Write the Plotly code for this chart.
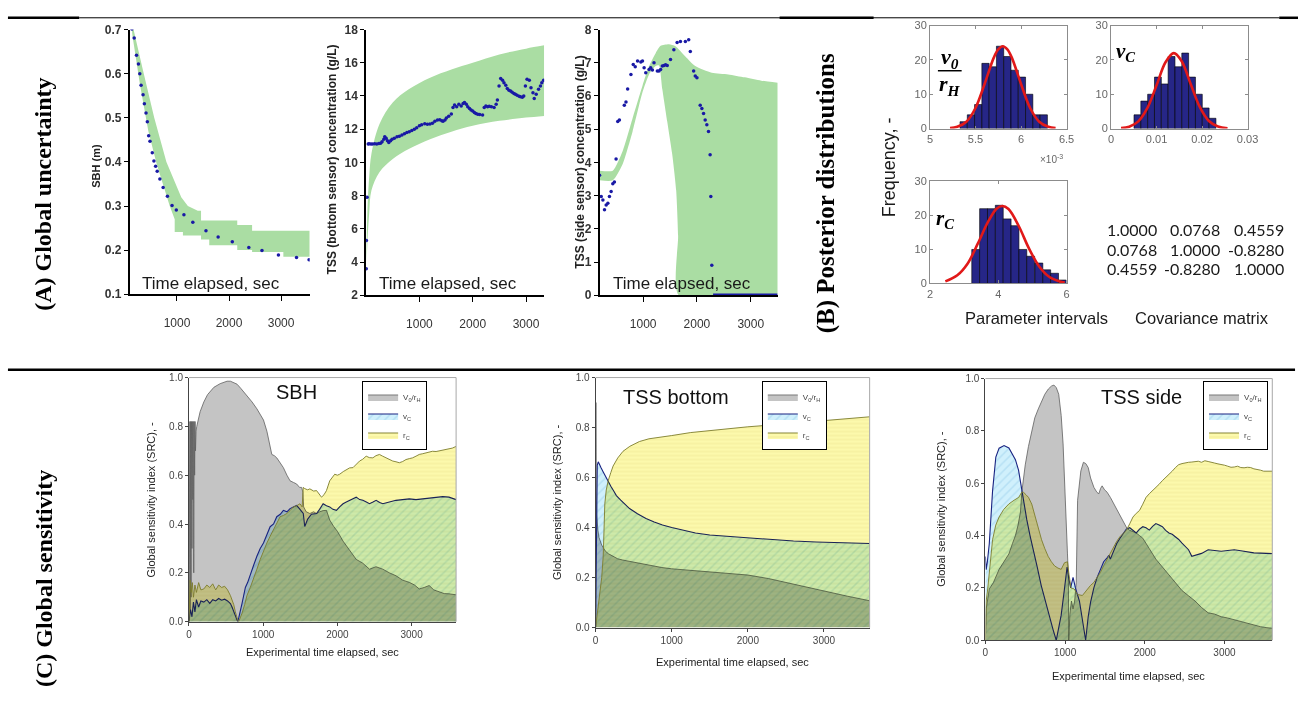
import plotly.graph_objects as go

# ---------------------------------------------------------------- data
# (A) observed vs. simulated envelopes
sbh_obs_t = [133, 177, 222, 259, 285, 310, 348, 373, 405, 430,
             456, 481, 525, 557, 589, 620, 671, 734, 816, 905,
             987, 1133, 1304, 1557, 1791, 2063, 2380, 2633, 2949, 3297,
             3538]
sbh_obs = [0.701, 0.681, 0.642, 0.622, 0.600, 0.574, 0.552, 0.532, 0.511, 0.491,
           0.459, 0.447, 0.421, 0.402, 0.390, 0.379, 0.361, 0.342, 0.322, 0.301,
           0.291, 0.280, 0.263, 0.244, 0.230, 0.219, 0.206, 0.199, 0.189, 0.183,
           0.178]
sbh_hi_t = [133, 165, 354, 563, 797, 1019, 1082, 1209, 1399, 1462, 1462, 2158, 2158, 2443, 2443, 3551]
sbh_hi = [0.70, 0.70, 0.604, 0.50, 0.40, 0.337, 0.32, 0.30, 0.289, 0.289, 0.267, 0.267, 0.257, 0.257, 0.244, 0.244]
sbh_lo_t = [133, 146, 291, 449, 608, 861, 956, 956, 1114, 1114, 1462, 1462, 1620, 1620, 2158, 2158,
            2443, 2443, 3044, 3044, 3551]
sbh_lo = [0.70, 0.685, 0.574, 0.47, 0.396, 0.30, 0.27, 0.241, 0.241, 0.233, 0.233, 0.224, 0.224, 0.211,
          0.211, 0.2, 0.2, 0.196, 0.196, 0.185, 0.185]

tssb_obs_t = [3, 6, 19, 40, 56, 90, 120, 160, 200, 240,
              272, 300, 333, 350, 376, 400, 426, 460, 487, 530,
              580, 625, 673, 720, 765, 810, 858, 905, 950, 1000,
              1043, 1100, 1150, 1198, 1245, 1290, 1340, 1383, 1420, 1444,
              1480, 1506, 1550, 1599, 1630, 1660, 1700, 1740, 1784, 1820,
              1846, 1880, 1907, 1940, 1969, 2000, 2031, 2060, 2093, 2130,
              2185, 2216, 2247, 2280, 2309, 2350, 2401, 2440, 2463, 2494,
              2525, 2560, 2586, 2620, 2648, 2680, 2710, 2740, 2772, 2800,
              2833, 2870, 2895, 2930, 2957, 2988, 3019, 3062, 3093, 3130,
              3154, 3191, 3235, 3270, 3296, 3330]
tssb_obs = [3.6, 5.3, 7.9, 11.1, 11.12, 11.1, 11.1, 11.12, 11.1, 11.13,
            11.15, 11.25, 11.4, 11.55, 11.45, 11.3, 11.2, 11.3, 11.4, 11.45,
            11.55, 11.58, 11.65, 11.72, 11.8, 11.85, 11.92, 12.0, 12.08, 12.2,
            12.27, 12.32, 12.3, 12.31, 12.35, 12.47, 12.55, 12.57, 12.5, 12.47,
            12.55, 12.67, 12.78, 12.91, 13.3, 13.45, 13.35, 13.5, 13.4, 13.55,
            13.6, 13.5, 13.35, 13.25, 13.15, 13.1, 13.0, 12.95, 12.9, 12.88,
            12.85, 13.3, 13.4, 13.35, 13.38, 13.35, 13.3, 13.5, 13.75, 14.6,
            15.05, 14.95, 14.8, 14.65, 14.45, 14.35, 14.3, 14.22, 14.15, 14.1,
            14.05, 13.98, 13.95, 13.92, 14.0, 14.6, 15.0, 14.95, 14.5, 14.2,
            13.85, 14.1, 14.4, 14.6, 14.8, 14.95]
tssb_band_t = [10, 30, 60, 100, 250, 500, 800, 1200, 1600, 2000, 2500, 3000, 3340]
tssb_hi = [5.0, 7.5, 9.2, 10.5, 12.3, 13.6, 14.4, 15.1, 15.6, 16.0, 16.5, 16.85, 17.05]
tssb_lo = [4.0, 5.5, 7.0, 8.3, 9.4, 10.2, 10.8, 11.4, 11.85, 12.2, 12.5, 12.7, 12.8]

tsss_obs_t = [190, 221, 252, 282, 313, 344, 374, 405, 436, 466,
              497, 528, 559, 650, 681, 712, 773, 816, 853, 896,
              957, 988, 1018, 1049, 1110, 1141, 1172, 1202, 1264, 1294,
              1325, 1356, 1387, 1417, 1448, 1509, 1571, 1632, 1693, 1785,
              1847, 1877, 1939, 1969, 2000, 2061, 2092, 2123, 2153, 2184,
              2215, 2245, 2258, 2276]
tsss_obs = [3.61, 2.97, 2.87, 2.57, 2.72, 2.77, 2.97, 3.12, 3.36, 3.41,
            4.10, 5.23, 5.28, 5.72, 5.82, 6.21, 6.65, 6.95, 6.88, 7.05,
            7.02, 7.05, 6.85, 6.70, 6.80, 6.85, 6.78, 7.0, 6.75, 6.75,
            6.80, 6.90, 6.92, 6.94, 6.92, 7.10, 7.39, 7.61, 7.64, 7.64,
            7.69, 7.34, 6.75, 6.60, 6.55, 5.72, 5.62, 5.47, 5.28, 5.13,
            4.93, 4.23, 2.97, 0.9]
tsss_zero_t = [2300, 3500]
tsss_zero = [0, 0]
tsss_hi_t = [190, 436, 620, 804, 988, 1110, 1233, 1325, 1479, 1601, 1785, 1969, 2276, 2583, 2890, 3196, 3503]
tsss_hi = [3.75, 3.75, 4.34, 5.33, 6.31, 6.9, 7.29, 7.51, 7.56, 7.5, 7.19, 6.9, 6.7, 6.65, 6.56, 6.46, 6.4]
tsss_lo_t = [190, 436, 620, 804, 988, 1110, 1233, 1294, 1356, 1448, 1540, 1614, 1650, 1663, 3503]
tsss_lo = [3.46, 3.46, 3.95, 4.93, 6.11, 6.65, 6.9, 6.92, 6.21, 5.23, 4.25, 3.16, 1.79, 0.0, 0.0]

# (B) posterior histograms (bin centres, counts) and fitted normal curves
h1_x = [5.37, 5.45, 5.53, 5.61, 5.69, 5.77, 5.85, 5.93, 6.01, 6.09, 6.17, 6.25]
h1_n = [2, 4, 7, 19, 18, 24, 21, 17, 15, 10, 4, 4]
h1_fit_x = [5.22, 5.3, 5.4, 5.5, 5.6, 5.7, 5.75, 5.8, 5.85, 5.9, 6.0, 6.1, 6.2, 6.3, 6.38]
h1_fit = [0.13, 0.5, 2.0, 6.0, 13.0, 20.6, 23.1, 24.0, 23.1, 20.6, 13.0, 6.0, 2.0, 0.5, 0.13]

h2_x = [0.0058, 0.0073, 0.0088, 0.0103, 0.0118, 0.0133, 0.0148, 0.0163, 0.0178, 0.0193, 0.0208, 0.0223]
h2_n = [4, 8, 10, 15, 13, 21, 18, 22, 15, 10, 6, 3]
h2_fit_x = [0.0022, 0.004, 0.006, 0.008, 0.010, 0.012, 0.0138, 0.0155, 0.0175, 0.0195, 0.0215, 0.0235, 0.0256]
h2_fit = [0.12, 0.54, 2.1, 6.0, 12.6, 19.4, 22.0, 19.7, 13.0, 6.3, 2.2, 0.6, 0.1]

h3_x = [3.34, 3.57, 3.80, 4.03, 4.26, 4.49, 4.72, 4.95, 5.19, 5.42, 5.65, 5.88]
h3_n = [10, 22, 22, 23, 19, 17, 10, 8, 6, 4, 3, 1]
h3_fit_x = [2.45, 2.8, 3.1, 3.4, 3.7, 3.95, 4.12, 4.3, 4.6, 4.9, 5.2, 5.5, 5.8, 5.95]
h3_fit = [0.6, 2.4, 5.8, 11.7, 18.1, 22.0, 22.8, 21.9, 16.9, 10.3, 5.0, 1.9, 0.6, 0.3]

corr_rows = [["1.0000", "0.0768", "0.4559"],
             ["0.0768", "1.0000", "-0.8280"],
             ["0.4559", "-0.8280", "1.0000"]]

# (C) standardized regression coefficients over time
c1_g_t = [0, 12, 16, 22, 28, 34, 40, 46, 52, 58,
          64, 70, 76, 82, 88, 95, 105, 150, 200, 250,
          335, 420, 513, 558, 600, 647, 700, 781, 850, 915,
          960, 1004, 1050, 1094, 1116, 1150, 1183, 1230, 1272, 1320,
          1362, 1410, 1451, 1490, 1518, 1535, 1545, 1580, 1629, 1680,
          1719, 1760, 1808, 1853, 1897, 1950, 2000, 2076, 2150, 2254,
          2340, 2433, 2520, 2612, 2700, 2790, 2880, 2969, 3040, 3103,
          3170, 3237, 3300, 3371, 3440, 3504, 3600]
c1_g = [0.0, 0.82, 0.05, 0.82, 0.10, 0.82, 0.30, 0.82, 0.50, 0.82,
        0.20, 0.82, 0.60, 0.82, 0.70, 0.78, 0.80, 0.86, 0.90, 0.93,
        0.96, 0.975, 0.985, 0.985, 0.98, 0.973, 0.955, 0.926, 0.90, 0.872,
        0.85, 0.826, 0.78, 0.725, 0.685, 0.68, 0.671, 0.65, 0.631, 0.60,
        0.577, 0.57, 0.564, 0.55, 0.55, 0.53, 0.47, 0.45, 0.443, 0.45,
        0.443, 0.45, 0.455, 0.456, 0.416, 0.39, 0.37, 0.33, 0.30, 0.255,
        0.24, 0.215, 0.225, 0.215, 0.20, 0.188, 0.17, 0.161, 0.15, 0.134,
        0.14, 0.148, 0.13, 0.121, 0.115, 0.114, 0.11]
c1_b_t = [0, 20, 40, 60, 80, 100, 130, 160, 200, 240,
          280, 320, 360, 400, 440, 480, 520, 558, 580, 603,
          625, 645, 656, 670, 692, 715, 737, 760, 790, 826,
          870, 915, 960, 1004, 1050, 1094, 1140, 1183, 1230, 1272,
          1320, 1362, 1406, 1451, 1496, 1540, 1560, 1600, 1650, 1719,
          1760, 1808, 1853, 1897, 1940, 1987, 2030, 2076, 2120, 2165,
          2210, 2254, 2300, 2343, 2390, 2433, 2480, 2522, 2570, 2612,
          2700, 2790, 2880, 2969, 3060, 3147, 3240, 3326, 3420, 3504,
          3600]
c1_b = [0.0, 0.05, 0.02, 0.08, 0.04, 0.09, 0.06, 0.085, 0.08, 0.09,
        0.075, 0.09, 0.085, 0.095, 0.088, 0.092, 0.085, 0.074, 0.06, 0.04,
        0.02, 0.007, 0.0, 0.015, 0.04, 0.075, 0.107, 0.14, 0.16, 0.188,
        0.23, 0.268, 0.30, 0.322, 0.36, 0.389, 0.40, 0.43, 0.44, 0.456,
        0.45, 0.463, 0.47, 0.476, 0.46, 0.443, 0.39, 0.42, 0.44, 0.443,
        0.46, 0.483, 0.475, 0.47, 0.46, 0.456, 0.47, 0.483, 0.49, 0.497,
        0.505, 0.51, 0.50, 0.497, 0.49, 0.483, 0.49, 0.497, 0.488, 0.483,
        0.49, 0.497, 0.50, 0.503, 0.50, 0.503, 0.508, 0.51, 0.512, 0.51,
        0.50]
c1_y_t = [0, 15, 30, 45, 60, 80, 100, 130, 160, 200,
          240, 280, 320, 360, 400, 440, 480, 520, 558, 580,
          603, 625, 647, 660, 670, 690, 714, 750, 781, 826,
          870, 915, 960, 1004, 1049, 1094, 1138, 1183, 1228, 1272,
          1317, 1362, 1406, 1451, 1496, 1525, 1540, 1560, 1600, 1629,
          1680, 1719, 1760, 1786, 1820, 1853, 1897, 1930, 1964, 2000,
          2031, 2080, 2121, 2165, 2210, 2255, 2299, 2340, 2388, 2430,
          2478, 2520, 2567, 2610, 2656, 2700, 2746, 2790, 2835, 2880,
          2924, 2970, 3013, 3060, 3103, 3150, 3192, 3240, 3281, 3330,
          3371, 3420, 3460, 3505, 3549, 3600]
c1_y = [0.0, 0.17, 0.12, 0.16, 0.10, 0.15, 0.12, 0.16, 0.13, 0.134,
        0.15, 0.14, 0.155, 0.13, 0.15, 0.14, 0.145, 0.13, 0.107, 0.09,
        0.07, 0.04, 0.013, 0.003, 0.0, 0.015, 0.034, 0.07, 0.107, 0.14,
        0.174, 0.215, 0.255, 0.29, 0.322, 0.35, 0.376, 0.40, 0.43, 0.435,
        0.443, 0.455, 0.47, 0.475, 0.483, 0.47, 0.55, 0.545, 0.54, 0.544,
        0.535, 0.537, 0.52, 0.51, 0.52, 0.537, 0.577, 0.59, 0.604, 0.60,
        0.604, 0.615, 0.624, 0.63, 0.631, 0.645, 0.658, 0.665, 0.678, 0.672,
        0.671, 0.68, 0.685, 0.678, 0.671, 0.665, 0.658, 0.655, 0.651, 0.656,
        0.664, 0.668, 0.671, 0.678, 0.685, 0.688, 0.691, 0.695, 0.698, 0.697,
        0.70, 0.702, 0.705, 0.708, 0.711, 0.718]

c2_g_t = [0, 4, 8, 14, 20, 30, 45, 60, 80, 100,
          130, 170, 226, 290, 356, 440, 530, 640, 748, 870,
          1000, 1200, 1400, 1617, 1800, 2000, 2270, 2500, 2704, 2850,
          3009, 3160, 3313, 3460, 3600]
c2_g = [0.0, 0.9, 0.55, 0.45, 0.42, 0.39, 0.36, 0.345, 0.33, 0.32,
        0.305, 0.295, 0.285, 0.275, 0.27, 0.265, 0.26, 0.252, 0.245, 0.24,
        0.235, 0.23, 0.226, 0.221, 0.217, 0.21, 0.196, 0.18, 0.166, 0.155,
        0.145, 0.135, 0.125, 0.116, 0.107]
c2_b_t = [0, 4, 8, 14, 22, 35, 50, 70, 95, 120,
          145, 165, 200, 240, 273, 330, 380, 446, 550, 662,
          770, 879, 1000, 1150, 1312, 1500, 1744, 1961, 2270, 2600,
          2900, 3200, 3400, 3600]
c2_b = [0.0, 0.2, 0.4, 0.58, 0.65, 0.663, 0.655, 0.64, 0.625, 0.61,
        0.60, 0.587, 0.565, 0.545, 0.528, 0.51, 0.495, 0.476, 0.455, 0.436,
        0.422, 0.41, 0.40, 0.39, 0.378, 0.37, 0.365, 0.358, 0.352, 0.346,
        0.342, 0.34, 0.338, 0.336]
c2_y_t = [0, 20, 50, 80, 100, 110, 121, 140, 165, 200,
          230, 290, 360, 450, 575, 700, 850, 1000, 1250, 1500,
          1750, 2000, 2300, 2600, 3000, 3300, 3600]
c2_y = [0.0, 0.05, 0.12, 0.2, 0.286, 0.4, 0.495, 0.55, 0.587, 0.62,
        0.646, 0.678, 0.705, 0.725, 0.744, 0.755, 0.763, 0.768, 0.78, 0.788,
        0.796, 0.803, 0.81, 0.818, 0.83, 0.837, 0.843]

c3_g_t = [0, 10, 49, 100, 172, 235, 295, 340, 377, 410,
          440, 457, 480, 500, 540, 582, 620, 664, 705, 746,
          790, 828, 860, 890, 920, 951, 975, 992, 1012, 1030,
          1041, 1046, 1060, 1080, 1100, 1120, 1140, 1157, 1198, 1230,
          1260, 1290, 1320, 1362, 1400, 1424, 1445, 1465, 1495, 1527,
          1570, 1609, 1650, 1691, 1730, 1774, 1811, 1850, 1893, 1934,
          1975, 2057, 2139, 2221, 2303, 2385, 2467, 2549, 2631, 2713,
          2795, 2877, 2959, 3041, 3123, 3205, 3287, 3369, 3451, 3533,
          3600]
c3_g = [0.0, 0.12, 0.196, 0.22, 0.271, 0.30, 0.33, 0.37, 0.40, 0.44,
        0.49, 0.566, 0.62, 0.67, 0.74, 0.80, 0.85, 0.884, 0.915, 0.94,
        0.96, 0.971, 0.975, 0.965, 0.94, 0.859, 0.75, 0.60, 0.41, 0.33,
        0.25, 0.0, 0.1, 0.15, 0.12, 0.15, 0.22, 0.535, 0.647, 0.68,
        0.675, 0.66, 0.62, 0.584, 0.565, 0.56, 0.58, 0.59, 0.575, 0.566,
        0.545, 0.522, 0.50, 0.472, 0.45, 0.429, 0.42, 0.415, 0.41, 0.40,
        0.39, 0.35, 0.31, 0.28, 0.25, 0.22, 0.19, 0.17, 0.15, 0.125,
        0.105, 0.10, 0.09, 0.085, 0.078, 0.072, 0.065, 0.058, 0.052, 0.048,
        0.046]
c3_b_t = [0, 10, 25, 49, 90, 131, 172, 234, 295, 336,
          377, 416, 457, 480, 520, 560, 600, 650, 700, 750,
          800, 850, 889, 920, 951, 992, 1025, 1045, 1070, 1100,
          1130, 1180, 1220, 1258, 1290, 1320, 1361, 1402, 1443, 1484,
          1527, 1550, 1568, 1600, 1648, 1689, 1730, 1770, 1811, 1852,
          1893, 1934, 1975, 2016, 2057, 2098, 2139, 2180, 2221, 2262,
          2303, 2344, 2385, 2426, 2467, 2508, 2549, 2590, 2631, 2672,
          2713, 2795, 2877, 2959, 3041, 3123, 3205, 3287, 3369, 3451,
          3533, 3600]
c3_b = [0.32, 0.27, 0.30, 0.37, 0.57, 0.70, 0.734, 0.744, 0.735, 0.715,
        0.69, 0.65, 0.57, 0.52, 0.46, 0.40, 0.35, 0.28, 0.21, 0.15,
        0.09, 0.04, 0.0, 0.05, 0.096, 0.196, 0.28, 0.24, 0.20, 0.24,
        0.20, 0.15, 0.08, 0.0, 0.09, 0.146, 0.20, 0.24, 0.27, 0.30,
        0.315, 0.325, 0.31, 0.335, 0.37, 0.39, 0.41, 0.425, 0.43, 0.42,
        0.41, 0.425, 0.434, 0.43, 0.421, 0.435, 0.446, 0.44, 0.434, 0.42,
        0.41, 0.405, 0.396, 0.385, 0.371, 0.36, 0.346, 0.321, 0.325, 0.328,
        0.332, 0.346, 0.342, 0.34, 0.343, 0.346, 0.342, 0.338, 0.334, 0.333,
        0.332, 0.331]
c3_y_t = [0, 10, 29, 60, 90, 130, 172, 230, 295, 360,
          418, 457, 480, 510, 541, 582, 623, 664, 705, 746,
          787, 828, 869, 910, 951, 992, 1030, 1050, 1074, 1115,
          1156, 1217, 1279, 1320, 1361, 1402, 1443, 1484, 1525, 1566,
          1607, 1648, 1689, 1730, 1770, 1811, 1852, 1893, 1934, 1975,
          2016, 2057, 2098, 2139, 2180, 2221, 2262, 2303, 2344, 2385,
          2426, 2467, 2508, 2549, 2590, 2631, 2672, 2713, 2754, 2795,
          2836, 2877, 2918, 2959, 3000, 3041, 3082, 3123, 3164, 3205,
          3246, 3287, 3328, 3369, 3410, 3451, 3492, 3533, 3574, 3600]
c3_y = [0.0, 0.15, 0.196, 0.30, 0.384, 0.44, 0.471, 0.50, 0.521, 0.535,
        0.546, 0.566, 0.565, 0.556, 0.546, 0.52, 0.471, 0.43, 0.384, 0.35,
        0.321, 0.30, 0.284, 0.276, 0.271, 0.296, 0.30, 0.25, 0.20, 0.196,
        0.175, 0.171, 0.196, 0.21, 0.221, 0.24, 0.259, 0.285, 0.309, 0.335,
        0.359, 0.378, 0.396, 0.41, 0.421, 0.445, 0.471, 0.485, 0.496, 0.52,
        0.546, 0.56, 0.571, 0.585, 0.596, 0.61, 0.621, 0.635, 0.646, 0.66,
        0.671, 0.675, 0.678, 0.68, 0.681, 0.683, 0.684, 0.68, 0.686, 0.683,
        0.681, 0.677, 0.674, 0.672, 0.669, 0.665, 0.661, 0.662, 0.665, 0.66,
        0.659, 0.661, 0.66, 0.655, 0.653, 0.65, 0.646, 0.647, 0.646, 0.646]

param_names = ["V<sub>0</sub>/r<sub>H</sub>", "v<sub>C</sub>", "r<sub>C</sub>"]

# ---------------------------------------------------------------- style
W, H = 1310, 711
SANS = "Liberation Sans, Arial, sans-serif"
SERIF = "Liberation Serif, Times New Roman, serif"
BAND = "rgb(170,221,163)"
DOT = "rgb(25,25,165)"
BAR = "rgb(38,38,135)"
FIT = "rgb(225,25,25)"
GREY_FILL = "rgb(196,196,196)"


def fx(p):
    return p / W


def fy(p):
    return 1 - p / H


fig = go.Figure()


def add(tr, n):
    sfx = "" if n == 1 else str(n)
    tr.update(xaxis="x" + sfx, yaxis="y" + sfx, hoverinfo="skip")
    fig.add_trace(tr)


# ---- (A) uncertainty bands with observations
add(go.Scatter(x=sbh_lo_t, y=sbh_lo, mode="lines", line=dict(width=0), showlegend=False), 1)
add(go.Scatter(x=sbh_hi_t, y=sbh_hi, mode="lines", line=dict(width=0), fill="tonexty",
               fillcolor=BAND, showlegend=False), 1)
add(go.Scatter(x=sbh_obs_t, y=sbh_obs, mode="markers", marker=dict(size=3.5, color=DOT),
               showlegend=False), 1)

add(go.Scatter(x=tssb_band_t, y=tssb_lo, mode="lines", line=dict(width=0, shape="spline"),
               showlegend=False), 2)
add(go.Scatter(x=tssb_band_t, y=tssb_hi, mode="lines", line=dict(width=0, shape="spline"),
               fill="tonexty", fillcolor=BAND, showlegend=False), 2)
add(go.Scatter(x=tssb_obs_t, y=tssb_obs, mode="markers", marker=dict(size=3.5, color=DOT),
               showlegend=False), 2)

add(go.Scatter(x=tsss_lo_t, y=tsss_lo, mode="lines", line=dict(width=0, shape="spline", smoothing=0.6),
               showlegend=False), 3)
add(go.Scatter(x=tsss_hi_t, y=tsss_hi, mode="lines", line=dict(width=0, shape="spline", smoothing=0.6),
               fill="tonexty", fillcolor=BAND, showlegend=False), 3)
add(go.Scatter(x=tsss_obs_t, y=tsss_obs, mode="markers", marker=dict(size=3.5, color=DOT),
               showlegend=False), 3)
add(go.Scatter(x=tsss_zero_t, y=tsss_zero, mode="lines", line=dict(width=3.5, color=DOT),
               showlegend=False), 3)

# ---- (B) posterior histograms
for n, (hx, hn, bw, fxv, fyv) in zip(
        (4, 5, 6),
        ((h1_x, h1_n, 0.08, h1_fit_x, h1_fit),
         (h2_x, h2_n, 0.0015, h2_fit_x, h2_fit),
         (h3_x, h3_n, 0.2314, h3_fit_x, h3_fit))):
    add(go.Bar(x=hx, y=hn, width=bw, marker=dict(color=BAR, line=dict(color="black", width=0.6)),
               showlegend=False), n)
    add(go.Scatter(x=fxv, y=fyv, mode="lines", line=dict(color=FIT, width=2.6, shape="spline"),
                   showlegend=False), n)

# ---- (C) sensitivity areas
def sens(n, legend, g_t, g, b_t, b, y_t, y):
    add(go.Scatter(x=g_t, y=g, name=param_names[0], mode="lines", fill="tozeroy",
                   line=dict(color="rgb(95,95,95)", width=0.8), fillcolor=GREY_FILL,
                   legend=legend), n)
    add(go.Scatter(x=b_t, y=b, name=param_names[1], mode="lines", fill="tozeroy",
                   line=dict(color="rgb(25,35,130)", width=1.1),
                   fillcolor="rgb(208,240,252)",
                   fillpattern=dict(shape="/", bgcolor="rgb(208,240,252)",
                                    fgcolor="rgb(155,208,236)", size=6, solidity=0.25),
                   legend=legend), n)
    add(go.Scatter(x=y_t, y=y, name=param_names[2], mode="lines", fill="tozeroy",
                   line=dict(color="rgb(125,125,45)", width=0.9),
                   fillcolor="rgb(252,249,172)",
                   fillpattern=dict(shape="-", bgcolor="rgb(252,249,172)",
                                    fgcolor="rgb(224,216,125)", size=4, solidity=0.2),
                   legend=legend), n)


sens(7, "legend", c1_g_t, c1_g, c1_b_t, c1_b, c1_y_t, c1_y)
sens(8, "legend2", c2_g_t, c2_g, c2_b_t, c2_b, c2_y_t, c2_y)
sens(9, "legend3", c3_g_t, c3_g, c3_b_t, c3_b, c3_y_t, c3_y)

# ---------------------------------------------------------------- axes
layout = dict(width=W, height=H, margin=dict(l=0, r=0, t=0, b=0),
              paper_bgcolor="white", plot_bgcolor="white", font=dict(family=SANS),
              showlegend=True)


def axis_pair(n, xd, yd, xr, yr, xkw, ykw):
    sfx = "" if n == 1 else str(n)
    layout["xaxis" + sfx] = dict(domain=[fx(xd[0]), fx(xd[1])], range=xr, anchor="y" + sfx,
                                 showgrid=False, zeroline=False, **xkw)
    layout["yaxis" + sfx] = dict(domain=[fy(yd[1]), fy(yd[0])], range=yr, anchor="x" + sfx,
                                 showgrid=False, zeroline=False, **ykw)


top_x = dict(showline=True, linecolor="black", linewidth=1.6, ticks="outside", ticklen=5,
             tickcolor="black", tickvals=[1000, 2000, 3000], ticklabelstandoff=12,
             tickfont=dict(size=12, color="#333"))


def top_y(vals, fmt):
    return dict(showline=True, linecolor="black", linewidth=1.6, ticks="outside", ticklen=4,
                tickcolor="black", tickvals=vals, tickformat=fmt,
                tickfont=dict(size=12, color="#333", weight="bold"))


axis_pair(1, (128, 310), (23, 293), [90, 3550], [0.1, 0.7], top_x,
          top_y([0.1, 0.2, 0.3, 0.4, 0.5, 0.6, 0.7], ".1f"))
axis_pair(2, (367, 547), (23, 294), [0, 3340], [2, 18], top_x,
          top_y([2, 4, 6, 8, 10, 12, 14, 16, 18], "d"))
axis_pair(3, (603, 783), (23, 294), [190, 3500], [0, 8], top_x,
          top_y([0, 1, 2, 3, 4, 5, 6, 7, 8], "d"))


def hist_ax(vals, text):
    return dict(showline=True, mirror="ticks", linecolor="#8c8c8c", linewidth=1, ticks="inside",
                ticklen=3, tickcolor="#8c8c8c", tickvals=vals, ticktext=text,
                tickfont=dict(size=11, color="#666"))


hy = hist_ax([0, 10, 20, 30], ["0", "10", "20", "30"])
axis_pair(4, (937, 1075), (19, 124), [5, 6.5], [0, 30],
          hist_ax([5, 5.5, 6, 6.5], ["5", "5.5", "6", "6.5"]), hy)
axis_pair(5, (1120, 1258), (19, 124), [0, 0.03], [0, 30],
          hist_ax([0, 0.01, 0.02, 0.03], ["0", "0.01", "0.02", "0.03"]), hy)
axis_pair(6, (937, 1075), (178, 282), [2, 6], [0, 30],
          hist_ax([2, 4, 6], ["2", "4", "6"]), hy)


def sens_x():
    return dict(showline=True, linecolor="#444", linewidth=1, ticks="outside", ticklen=3,
                tickcolor="#444", tickvals=[0, 1000, 2000, 3000],
                tickfont=dict(size=10, color="#444"))


def sens_y():
    return dict(showline=True, linecolor="#444", linewidth=1, ticks="outside", ticklen=3,
                tickcolor="#444", tickvals=[0, 0.2, 0.4, 0.6, 0.8, 1.0], tickformat=".1f",
                tickfont=dict(size=10, color="#444"))


axis_pair(7, (188, 458), (378, 627), [0, 3600], [0, 1], sens_x(), sens_y())
axis_pair(8, (599, 876), (378, 633), [0, 3600], [0, 1], sens_x(), sens_y())
axis_pair(9, (993, 1283), (379, 646), [0, 3600], [0, 1], sens_x(), sens_y())


def legend_box(xp, yp):
    return dict(x=fx(xp), y=fy(yp), xanchor="left", yanchor="top", bgcolor="white",
                bordercolor="black", borderwidth=1, font=dict(size=8, color="#444", family=SANS),
                itemwidth=30, tracegroupgap=0, traceorder="normal")


layout["legend"] = legend_box(363, 382)
layout["legend2"] = legend_box(767, 382)
layout["legend3"] = legend_box(1213, 382)

# ---------------------------------------------------------------- rules and frames
shapes = []


def hline(x0, x1, y, w):
    shapes.append(dict(type="line", xref="paper", yref="paper", x0=fx(x0), x1=fx(x1),
                       y0=fy(y), y1=fy(y), line=dict(color="black", width=w)))


hline(77, 1290, 11, 1)
hline(5, 77, 11, 2.5)
hline(785, 880, 11, 2.5)
hline(1290, 1309, 11, 2.5)
hline(5, 1306, 370, 2.5)

for n in (7, 8, 9):
    shapes.append(dict(type="line", xref=f"x{n} domain", yref=f"y{n} domain", x0=0, x1=1, y0=1, y1=1,
                       line=dict(color="#a8a8a8", width=1)))
    shapes.append(dict(type="line", xref=f"x{n} domain", yref=f"y{n} domain", x0=1, x1=1, y0=0, y1=1,
                       line=dict(color="#a8a8a8", width=1)))

# fraction bar of v0/rH
shapes.append(dict(type="line", xref="paper", yref="paper", x0=fx(945), x1=fx(969),
                   y0=fy(65), y1=fy(65), line=dict(color="black", width=1.5)))
layout["shapes"] = shapes

# ---------------------------------------------------------------- text
anns = []


def ann(text, x, y, size, family=SANS, color="#222", angle=0, xanchor="center", yanchor="middle"):
    anns.append(dict(text=text, x=fx(x), y=fy(y), xref="paper", yref="paper", showarrow=False,
                     textangle=angle, xanchor=xanchor, yanchor=yanchor,
                     font=dict(size=size, family=family, color=color)))


ann("<b>(A) Global uncertainty</b>", 41, 191, 24, SERIF, "black", -90)
ann("<b>(B) Posterior distributions</b>", 832, 190, 25, SERIF, "black", -90)
ann("<b>(C) Global sensitivity</b>", 41, 583, 24, SERIF, "black", -90)

ann("<b>SBH (m)</b>", 94, 162, 11, angle=-90)
ann("<b>TSS (bottom sensor) concentration (g/L)</b>", 333, 155, 12, angle=-90)
ann("<b>TSS (side sensor) concentration (g/L)</b>", 583, 158, 12, angle=-90)
for xl in (138, 378, 615):
    ann("Time elapsed, sec", xl, 282, 17, SANS, "#1a1a1a", xanchor="left")

ann("Frequency, -", 895, 163, 18, SANS, "#1a1a1a", -90)
ann("×10<sup>-3</sup>", 1060, 155, 10, color="#666")
ann("<b><i>v<sub>0</sub></i></b>", 957, 52, 22, SERIF, "black")
ann("<b><i>r<sub>H</sub></i></b>", 957, 80, 22, SERIF, "black")
ann("<b><i>v<sub>C</sub></i></b>", 1135, 46, 21, SERIF, "black")
ann("<b><i>r<sub>C</sub></i></b>", 952, 216, 21, SERIF, "black")
ann("Parameter intervals", 1045, 317, 16.5, SANS, "#1a1a1a")
ann("Covariance matrix", 1212, 317, 16.5, SANS, "#1a1a1a")
for r, row in enumerate(corr_rows):
    for c, val in enumerate(row):
        ann(val, (1168, 1232, 1297)[c], 227 + 20 * r, 16, "Lato, Liberation Sans, sans-serif",
            "#1a1a1a", xanchor="right")

ann("SBH", 297, 393, 20, color="#111")
ann("TSS bottom", 680, 398, 20, color="#111")
ann("TSS side", 1151, 398, 20, color="#111")
for (xc, yc) in ((150, 502), (560, 505), (948, 512)):
    ann("Global sensitivity index (SRC), -", xc, yc, 11, angle=-90)
for (xc, yc) in ((323, 658), (737, 668), (1138, 682)):
    ann("Experimental time elapsed, sec", xc, yc, 11)

layout["annotations"] = anns
fig.update_layout(**layout)

# overlapping sensitivity areas are shown multiplied, like stacked transparencies
blend_js = """
var gd = document.getElementById('{plot_id}');
gd.querySelectorAll('.cartesianlayer .js-fill').forEach(function (p) {
    p.style.mixBlendMode = 'multiply';
});
"""
fig.write_html("out.html", post_script=blend_js)
